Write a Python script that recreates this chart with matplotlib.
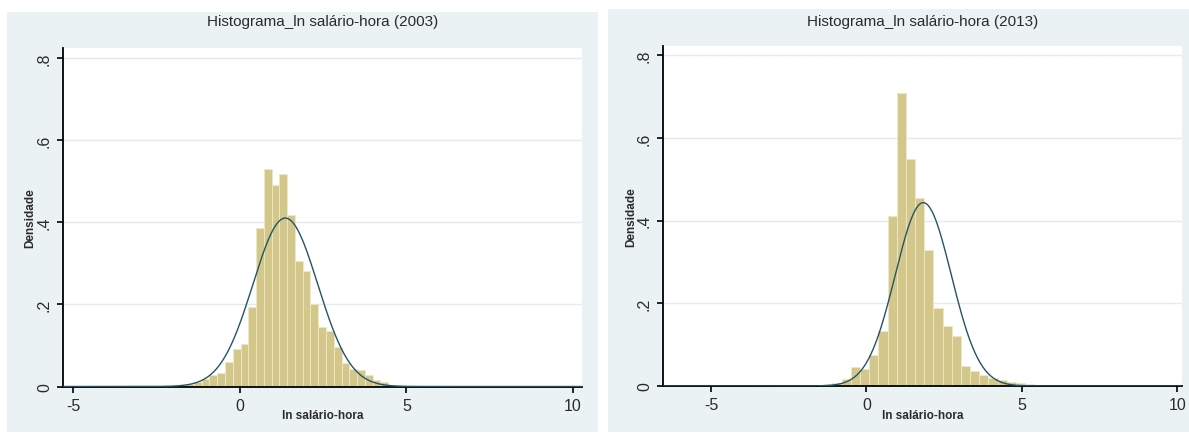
import numpy as np
import matplotlib
matplotlib.use("Agg")
import matplotlib.pyplot as plt
from matplotlib.patches import Rectangle

plt.rcParams["font.family"] = ["Liberation Sans Narrow", "Liberation Sans", "DejaVu Sans"]
plt.rcParams["axes.unicode_minus"] = False

# ln hourly wage, 2003: histogram bins (left edge of first bin, width, densities)
first_edge_2003 = -2.071
bin_width_2003 = 0.233
density_2003 = [0.002, 0.003, 0.005, 0.010, 0.018, 0.028, 0.034, 0.059, 0.092, 0.104,
                0.194, 0.385, 0.530, 0.490, 0.517, 0.418, 0.305, 0.281, 0.200, 0.146,
                0.136, 0.097, 0.056, 0.043, 0.039, 0.027, 0.015, 0.010, 0.004, 0.002]
mean_2003 = 1.37
sd_2003 = 0.973

# ln hourly wage, 2013
first_edge_2013 = -6.105
bin_width_2013 = 0.295
density_2013 = [0.002, 0.002, 0.002, 0.002, 0.002, 0.002, 0.002, 0.002,
                0.002, 0.002, 0.002, 0.002, 0.002, 0.002, 0.002, 0.002,
                0.004, 0.008, 0.017, 0.045, 0.042, 0.075, 0.134, 0.412, 0.709, 0.549,
                0.455, 0.329, 0.189, 0.146, 0.122, 0.049, 0.037, 0.027, 0.020, 0.015,
                0.010, 0.008, 0.005, 0.003,
                0.002, 0.002, 0.002, 0.002, 0.002, 0.001, 0.001, 0.001, 0.001, 0.001, 0.001]
mean_2013 = 1.83
sd_2013 = 0.90

x_ticks = [-5, 0, 5, 10]
y_ticks = [0, 0.2, 0.4, 0.6, 0.8]
y_tick_labels = ["0", ".2", ".4", ".6", ".8"]
x_label = "ln salário-hora"
y_label = "Densidade"

BAR = "#D3C78B"
BAR_EDGE = "#EEE8C6"
CURVE = "#245566"
PANEL = "#EAF2F3"
GRID = "#E3EBED"
TEXT = "#2B2B2B"

W, H = 1189, 435


def fig_box(x0, y0, x1, y1):
    """Pixel box (top-left origin) -> figure fraction [left, bottom, width, height]"""
    return [x0 / W, 1 - y1 / H, (x1 - x0) / W, (y1 - y0) / H]


def histogram_panel(fig, panel, plot, first_edge, width, density, mu, sd, xlim, ylim, title):
    """Draws one Stata-like density histogram with a normal overlay"""
    left, bottom, w, h = fig_box(*panel)
    fig.patches.append(Rectangle((left, bottom), w, h, transform=fig.transFigure,
                                 facecolor=PANEL, edgecolor="none", zorder=-5))
    ax = fig.add_axes(fig_box(*plot), zorder=1)
    ax.set_facecolor("white")

    edges = first_edge + width * np.arange(len(density))
    ax.bar(edges, density, width=width, align="edge", color=BAR,
           edgecolor=BAR_EDGE, linewidth=0.6, zorder=2)

    xs = np.linspace(xlim[0], xlim[1], 600)
    ys = np.exp(-0.5 * ((xs - mu) / sd) ** 2) / (sd * np.sqrt(2 * np.pi))
    ax.plot(xs, ys, color=CURVE, linewidth=1.0, zorder=3)

    ax.set_xlim(*xlim)
    ax.set_ylim(*ylim)
    ax.set_xticks(x_ticks)
    ax.set_yticks(y_ticks)
    ax.set_yticklabels(y_tick_labels, rotation=90, va="center")
    for y in y_ticks[1:]:
        ax.axhline(y, color=GRID, linewidth=1.0, zorder=1)

    for side in ("top", "right"):
        ax.spines[side].set_visible(False)
    for side in ("left", "bottom"):
        ax.spines[side].set_color("black")
        ax.spines[side].set_linewidth(1.3)
    ax.tick_params(direction="out", length=4, width=1.2, colors="black",
                   labelcolor=TEXT, labelsize=11.5, pad=4)

    cx = (plot[0] + plot[2]) / 2
    cy = (plot[1] + plot[3]) / 2
    fig.text(cx / W, 1 - 22 / H, title, ha="center", va="center",
             fontsize=11, color=TEXT)
    fig.text(cx / W, 1 - 416 / H, x_label, ha="center", va="center",
             fontsize=8.5, fontweight="bold", color=TEXT)
    fig.text((panel[0] + 23) / W, 1 - cy / H, y_label, ha="center", va="center",
             rotation=90, fontsize=8.5, fontweight="bold", color=TEXT)
    return ax


fig = plt.figure(figsize=(W / 100, H / 100), dpi=100)
fig.patch.set_facecolor("white")

histogram_panel(fig, (7, 13, 598, 433), (63, 49, 582, 387.5),
                first_edge_2003, bin_width_2003, density_2003, mean_2003, sd_2003,
                (-5.3, 10.27), (0, 0.824), "Histograma_ln salário-hora (2003)")
histogram_panel(fig, (608, 10, 1189, 433), (663, 47, 1182, 387),
                first_edge_2013, bin_width_2013, density_2013, mean_2013, sd_2013,
                (-6.54, 10.15), (0, 0.822), "Histograma_ln salário-hora (2013)")

fig.savefig("out.png", dpi=100, facecolor="white")
